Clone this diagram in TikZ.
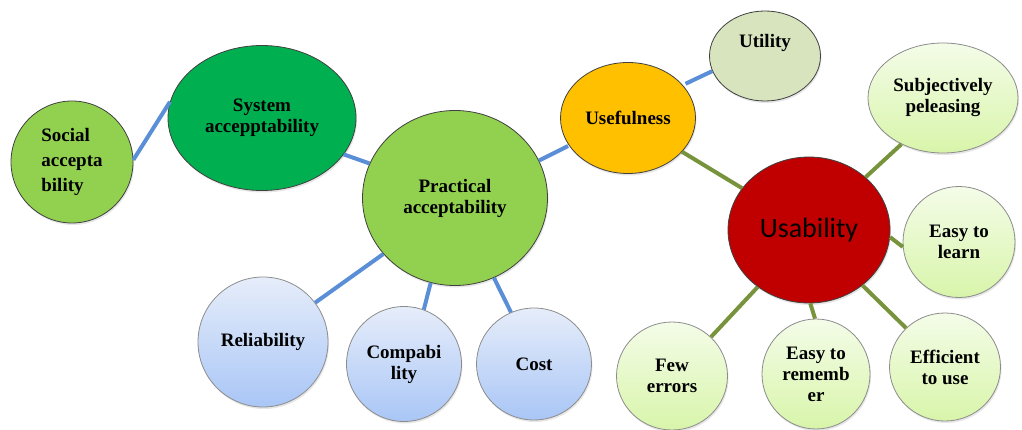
\documentclass[tikz,border=0pt]{standalone}
\usepackage{fontspec}
\setmainfont{Liberation Serif}
\newfontfamily\calib{Carlito}
\usetikzlibrary{shapes.geometric,shadows}
\definecolor{lgreen}{HTML}{92D050}
\definecolor{sgreen}{HTML}{00B050}
\definecolor{amber}{HTML}{FFC000}
\definecolor{utilc}{HTML}{D7E4BD}
\definecolor{usabc}{HTML}{C00000}
\definecolor{paletop}{HTML}{F4FCE8}
\definecolor{palebot}{HTML}{D8F5AA}
\definecolor{blutop}{HTML}{E6EDFA}
\definecolor{blubot}{HTML}{A9C6F6}
\definecolor{lineblue}{HTML}{5A8ED6}
\definecolor{lineolive}{HTML}{77933C}
\tikzset{
  bub/.style={ellipse, draw=black!75, line width=0.8pt, inner sep=0pt, align=center,
    font=\fontsize{19}{21}\selectfont\bfseries,
    drop shadow={opacity=0.2, shadow xshift=1pt, shadow yshift=-2pt}},
  solid bub/.style={bub, fill=#1},
  pale/.style={bub, draw=black!45, top color=paletop, bottom color=palebot},
  blu/.style={bub, draw=black!45, top color=blutop, bottom color=blubot},
  bline/.style={draw=lineblue, line width=4pt},
  gline/.style={draw=lineolive, line width=4pt},
  txt/.style={inner sep=0pt, align=center, font=\fontsize{19}{21}\selectfont\bfseries}
}
\begin{document}
\begin{tikzpicture}[x=1pt,y=-1pt]
\useasboundingbox (0,0) rectangle (1022,430);
% nodes
\node[solid bub=lgreen, minimum width=122pt, minimum height=122pt, align=left,
  font=\fontsize{19}{25}\selectfont\bfseries] (soc) at (72,162) {Social\\accepta\\bility};
\node[solid bub=sgreen, minimum width=188pt, minimum height=145pt] (sys) at (262,118) {System\\accepptability};
\node[solid bub=lgreen, minimum width=185pt, minimum height=175pt] (prac) at (455,198) {Practical\\acceptability};
\node[solid bub=amber, minimum width=135pt, minimum height=111pt] (usef) at (628,118) {Usefulness};
\node[solid bub=utilc, minimum width=111pt, minimum height=90pt] (util) at (765,56) {};
\node[txt] (utilt) at (765,43) {Utility};
\node[pale, minimum width=150pt, minimum height=110pt] (subj) at (943,98) {Subjectively\\peleasing};
\node[solid bub=usabc, minimum width=162pt, minimum height=146pt,
  font=\fontsize{28}{30}\selectfont\calib] (usab) at (809,230) {Usability};
\node[pale, minimum width=112pt, minimum height=111pt] (learn) at (959,242) {Easy to\\learn};
\node[pale, minimum width=111pt, minimum height=108pt] (eff) at (945,367) {Efficient\\to use};
\node[pale, minimum width=108pt, minimum height=110pt] (rem) at (816,374) {Easy to\\rememb\\er};
\node[pale, minimum width=111pt, minimum height=108pt] (few) at (672,376) {Few\\errors};
\node[blu, minimum width=130pt, minimum height=130pt] (rel) at (263,342) {Reliability};
\node[blu, minimum width=115pt, minimum height=115pt] (comp) at (404,364) {Compabi\\lity};
\node[blu, minimum width=115pt, minimum height=112pt] (cost) at (534,364) {Cost};
% connectors
\draw[bline] (soc.2) -- (sys.170);
\draw[bline] (sys.336) -- (prac.158);
\draw[bline, shorten >=1pt] (prac.24) -- (usef.205);
\draw[bline, shorten <=3pt] (usef.31) -- (util.196);
\draw[bline] (prac.218) -- (rel.37);
\draw[bline] (prac.254) -- (comp.70);
\draw[bline] (prac.296) -- (cost.114);
\draw[gline] (usef.328) -- (usab.148);
\draw[gline] (usab.43) -- (subj.228);
\draw[gline] (usab.-5) -- (learn.185);
\draw[gline] (usab.-46) -- (eff.135);
\draw[gline] (usab.-89) -- (rem.91);
\draw[gline] (usab.228) -- (few.45);
\end{tikzpicture}
\end{document}
